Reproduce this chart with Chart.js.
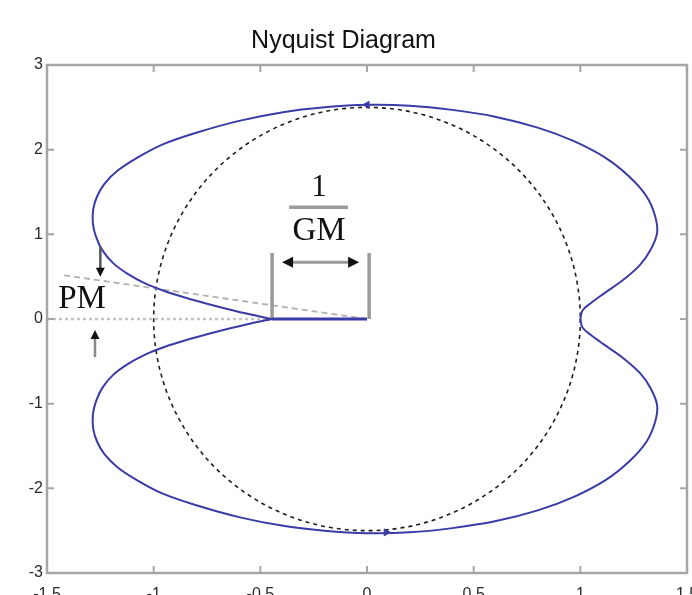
<!DOCTYPE html>
<html>
<head>
<meta charset="utf-8">
<title>Nyquist Diagram</title>
<script src="https://cdn.jsdelivr.net/npm/chart.js@4.4.1/dist/chart.umd.min.js"></script>
<style>
  html, body { margin: 0; padding: 0; background: #ffffff; overflow: hidden; }
  canvas { display: block; }
</style>
</head>
<body>
<canvas id="nyq" width="692" height="595"></canvas>
<script>
// Nyquist locus, upper branch (positive imaginary part), real / imaginary
const upperRe = [-0.445, -0.55, -0.65, -0.75, -0.85, -0.95, -1.04, -1.12, -1.19, -1.24, -1.27, -1.285, -1.283, -1.265, -1.23, -1.17, -1.08, -0.96, -0.8, -0.6, -0.4, -0.2, 0, 0.2, 0.4, 0.6, 0.8, 0.97, 1.12, 1.23, 1.31, 1.35, 1.36, 1.33, 1.28, 1.2, 1.11, 1.05, 1.01, 1.0];
const upperIm = [0, 0.055, 0.115, 0.18, 0.25, 0.33, 0.42, 0.53, 0.66, 0.81, 0.97, 1.13, 1.3, 1.45, 1.6, 1.75, 1.9, 2.06, 2.2, 2.34, 2.44, 2.5, 2.53, 2.52, 2.47, 2.39, 2.26, 2.1, 1.9, 1.68, 1.45, 1.22, 1.02, 0.82, 0.64, 0.46, 0.3, 0.19, 0.1, 0.0];
// lower branch (negative frequencies)
const lowerRe = [-0.445, -0.55, -0.65, -0.75, -0.85, -0.95, -1.04, -1.12, -1.19, -1.24, -1.27, -1.285, -1.283, -1.265, -1.23, -1.17, -1.08, -0.96, -0.8, -0.6, -0.4, -0.2, 0, 0.2, 0.4, 0.6, 0.8, 0.97, 1.12, 1.23, 1.31, 1.35, 1.36, 1.33, 1.28, 1.2, 1.11, 1.05, 1.01, 1.0];
const lowerIm = [0, -0.055, -0.115, -0.18, -0.25, -0.33, -0.42, -0.53, -0.66, -0.81, -0.97, -1.13, -1.3, -1.45, -1.6, -1.75, -1.9, -2.06, -2.2, -2.34, -2.44, -2.5, -2.53, -2.52, -2.47, -2.39, -2.26, -2.1, -1.9, -1.68, -1.45, -1.22, -1.02, -0.82, -0.64, -0.46, -0.3, -0.19, -0.1, 0.0];
// segment from the left crossing back to the origin
const tailRe = [-0.445, 0];
const tailIm = [0, 0];
// direction arrows on the locus
const arrowRe = [0, 0.09];
const arrowIm = [2.53, -2.52];
const arrowRot = [270, 90];

// axis ticks
const xTicks = [-1.5, -1, -0.5, 0, 0.5, 1, 1.5];
const xTickLabels = ['-1.5', '-1', '-0.5', '0', '0.5', '1', '1.5'];
const yTicks = [-3, -2, -1, 0, 1, 2, 3];
const yTickLabels = ['-3', '-2', '-1', '0', '1', '2', '3'];

// reference circle (semi-axes in data units)
const circleCenter = [0, 0];
const circleRadii = [1, 2.5];
// gain-margin dimension and phase-margin construction
const gmLeft = -0.445, gmRight = 0.01, gmTop = 0.78, gmArrowY = 0.67;
const pmRay = [-1.43, 0.52];
const pmUpperArrow = { re: -1.25, from: 0.85, to: 0.5 };
const pmLowerArrow = { re: -1.275, from: -0.45, to: -0.13 };

const BLUE = '#3b3ba8';
const pts = (xs, ys) => xs.map((v, i) => ({ x: v, y: ys[i] }));

function arrowHead(ctx, x, y, ang, len, half) {
  ctx.beginPath();
  ctx.moveTo(x, y);
  ctx.lineTo(x - len * Math.cos(ang) + half * Math.sin(ang), y - len * Math.sin(ang) - half * Math.cos(ang));
  ctx.lineTo(x - len * Math.cos(ang) - half * Math.sin(ang), y - len * Math.sin(ang) + half * Math.cos(ang));
  ctx.closePath();
  ctx.fill();
}

const guides = {
  id: 'nyquistGuides',
  beforeDatasetsDraw(chart) {
    const { ctx, scales: { x, y } } = chart;
    const px = v => x.getPixelForValue(v), py = v => y.getPixelForValue(v);
    ctx.save();
    // dashed reference circle
    const cx = px(circleCenter[0]), cy = py(circleCenter[1]);
    ctx.beginPath();
    ctx.setLineDash([4, 4]);
    ctx.strokeStyle = '#1e1e1e';
    ctx.lineWidth = 1.6;
    ctx.ellipse(cx, cy, Math.abs(px(circleRadii[0]) - cx), Math.abs(py(circleRadii[1]) - cy), 0, 0, 2 * Math.PI);
    ctx.stroke();
    // dotted real axis up to the crossing
    ctx.beginPath();
    ctx.setLineDash([3, 3]);
    ctx.strokeStyle = '#c4c4c4';
    ctx.lineWidth = 2.5;
    ctx.moveTo(px(-1.5), py(0));
    ctx.lineTo(px(gmLeft), py(0));
    ctx.stroke();
    // phase-margin ray from the origin
    ctx.beginPath();
    ctx.setLineDash([6, 4]);
    ctx.strokeStyle = '#b0b0b0';
    ctx.lineWidth = 1.8;
    ctx.moveTo(px(0), py(0));
    ctx.lineTo(px(pmRay[0]), py(pmRay[1]));
    ctx.stroke();
    ctx.setLineDash([]);
    // gain-margin bracket sides
    ctx.strokeStyle = '#9a9a9a';
    ctx.lineWidth = 3.5;
    ctx.beginPath();
    ctx.moveTo(px(gmLeft), py(0));
    ctx.lineTo(px(gmLeft), py(gmTop));
    ctx.moveTo(px(gmRight), py(0));
    ctx.lineTo(px(gmRight), py(gmTop));
    ctx.stroke();
    ctx.restore();
  },
  afterDatasetsDraw(chart) {
    const { ctx, chartArea: a, scales: { x, y } } = chart;
    const px = v => x.getPixelForValue(v), py = v => y.getPixelForValue(v);
    ctx.save();
    // axes box with inward ticks
    ctx.strokeStyle = '#a6a6a6';
    ctx.lineWidth = 2.5;
    ctx.strokeRect(a.left, a.top, a.right - a.left, a.bottom - a.top);
    ctx.lineWidth = 2;
    ctx.beginPath();
    xTicks.forEach(v => {
      const X = px(v);
      ctx.moveTo(X, a.bottom); ctx.lineTo(X, a.bottom - 7);
      ctx.moveTo(X, a.top); ctx.lineTo(X, a.top + 7);
    });
    yTicks.forEach(v => {
      const Y = py(v);
      ctx.moveTo(a.left, Y); ctx.lineTo(a.left + 7, Y);
      ctx.moveTo(a.right, Y); ctx.lineTo(a.right - 7, Y);
    });
    ctx.stroke();

    // 1/GM double arrow
    const ay = py(gmArrowY);
    const x1 = px(gmLeft) + 10, x2 = px(gmRight) - 10;
    ctx.strokeStyle = '#9a9a9a';
    ctx.lineWidth = 3;
    ctx.beginPath();
    ctx.moveTo(x1 + 6, ay); ctx.lineTo(x2 - 6, ay);
    ctx.stroke();
    ctx.fillStyle = '#111';
    arrowHead(ctx, x1, ay, Math.PI, 11, 5.5);
    arrowHead(ctx, x2, ay, 0, 11, 5.5);

    // fraction 1 / GM
    const fx = px(-0.225);
    ctx.strokeStyle = '#9a9a9a';
    ctx.lineWidth = 3.5;
    ctx.beginPath();
    ctx.moveTo(px(-0.365), py(1.32));
    ctx.lineTo(px(-0.089), py(1.32));
    ctx.stroke();
    ctx.fillStyle = '#111';
    ctx.textAlign = 'center';
    ctx.textBaseline = 'alphabetic';
    ctx.font = '31px "Liberation Serif", "Times New Roman", serif';
    ctx.fillText('1', fx, py(1.45));
    ctx.font = '33px "Liberation Serif", "Times New Roman", serif';
    ctx.fillText('GM', fx, py(0.93));

    // PM label and arrows
    ctx.fillText('PM', px(-1.336), py(0.13));
    ctx.strokeStyle = '#555';
    ctx.lineWidth = 2.5;
    const ux = px(pmUpperArrow.re);
    ctx.beginPath();
    ctx.moveTo(ux, py(pmUpperArrow.from));
    ctx.lineTo(ux, py(pmUpperArrow.to) - 6);
    ctx.stroke();
    arrowHead(ctx, ux, py(pmUpperArrow.to), Math.PI / 2, 9, 4.5);
    const lx = px(pmLowerArrow.re);
    ctx.strokeStyle = '#8a8a8a';
    ctx.beginPath();
    ctx.moveTo(lx, py(pmLowerArrow.from));
    ctx.lineTo(lx, py(pmLowerArrow.to) + 6);
    ctx.stroke();
    arrowHead(ctx, lx, py(pmLowerArrow.to), -Math.PI / 2, 9, 4.5);
    ctx.restore();
  }
};

new Chart(document.getElementById('nyq'), {
  type: 'scatter',
  data: {
    datasets: [
      { data: pts(upperRe, upperIm), showLine: true, borderColor: BLUE, borderWidth: 2, pointRadius: 0, tension: 0.35, fill: false },
      { data: pts(lowerRe, lowerIm), showLine: true, borderColor: BLUE, borderWidth: 2, pointRadius: 0, tension: 0.35, fill: false },
      { data: pts(tailRe, tailIm), showLine: true, borderColor: BLUE, borderWidth: 3, pointRadius: 0, fill: false },
      { data: pts(arrowRe, arrowIm), showLine: false, pointStyle: 'triangle', rotation: arrowRot, pointRadius: 4, backgroundColor: BLUE, borderColor: BLUE, borderWidth: 1 }
    ]
  },
  options: {
    responsive: false,
    animation: false,
    events: [],
    layout: { padding: { left: 0, right: 5, top: 0, bottom: 0 } },
    plugins: {
      legend: { display: false },
      tooltip: { enabled: false },
      title: {
        display: true,
        text: 'Nyquist Diagram',
        color: '#111',
        font: { family: '"Liberation Sans", Arial, sans-serif', size: 25, weight: 'normal' },
        padding: { top: 26, bottom: 9 }
      }
    },
    scales: {
      x: {
        type: 'linear',
        min: -1.5, max: 1.5,
        afterBuildTicks: s => { s.ticks = xTicks.map(v => ({ value: v })); },
        afterFit: s => { s.height = 22; s.paddingLeft = 0; s.paddingRight = 0; },
        grid: { display: false, drawTicks: false },
        border: { display: false },
        ticks: {
          autoSkip: false, maxRotation: 0, padding: 12, color: '#2a2a2a',
          font: { family: '"Liberation Sans", Arial, sans-serif', size: 16 },
          callback: v => { const i = xTicks.indexOf(v); return i >= 0 ? xTickLabels[i] : ''; }
        }
      },
      y: {
        type: 'linear',
        min: -3, max: 3,
        afterBuildTicks: s => { s.ticks = yTicks.map(v => ({ value: v })); },
        afterFit: s => { s.width = 47; s.paddingTop = 0; s.paddingBottom = 0; },
        grid: { display: false, drawTicks: false },
        border: { display: false },
        ticks: {
          autoSkip: false, padding: 4, color: '#2a2a2a',
          font: { family: '"Liberation Sans", Arial, sans-serif', size: 16 },
          callback: v => { const i = yTicks.indexOf(v); return i >= 0 ? yTickLabels[i] : ''; }
        }
      }
    }
  },
  plugins: [guides]
});
</script>
</body>
</html>
